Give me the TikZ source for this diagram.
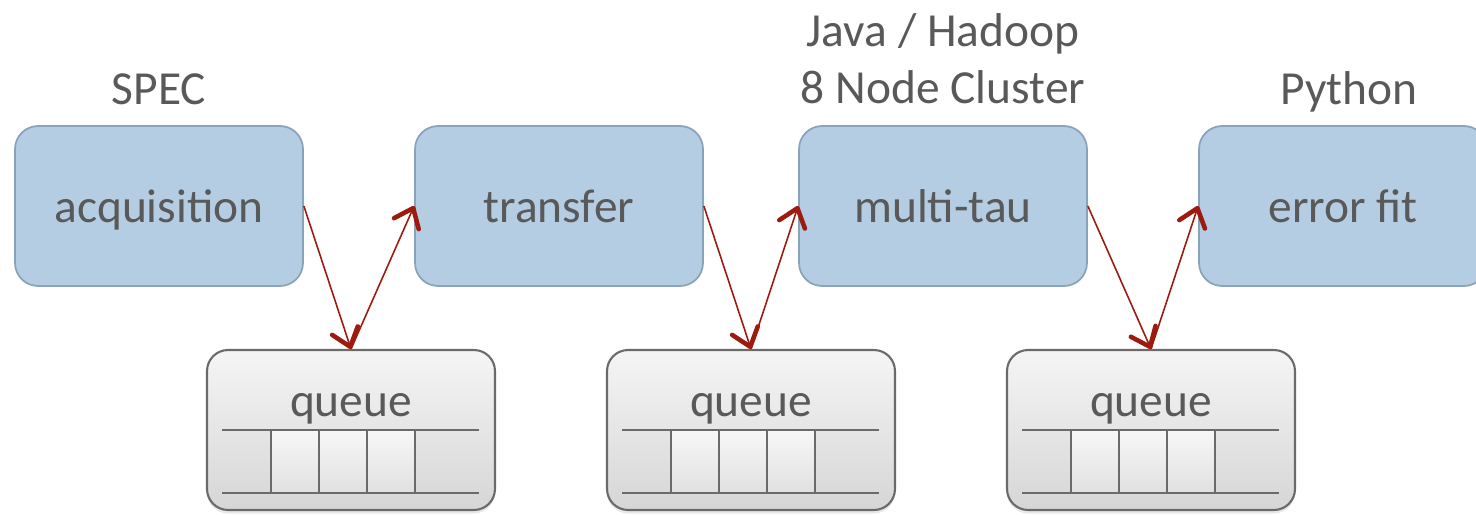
\documentclass[tikz,border=0pt]{standalone}
\usepackage{fontspec}
\setmainfont{Carlito}
\usetikzlibrary{positioning, arrows.meta, shadows}
\definecolor{stagefill}{HTML}{B4CDE2}
\definecolor{stageline}{HTML}{8AA3BA}
\definecolor{txtgray}{HTML}{595959}
\definecolor{flowred}{HTML}{9C1B0E}
\definecolor{queueline}{HTML}{6A6A6A}
\newcommand{\flowarrow}{-{Straight Barb[length=3.4mm,width=5.4mm,line width=2.6pt,round]}}

\begin{document}
\begin{tikzpicture}[x=0.02cm, y=-0.02cm,
        font=\fontsize{27}{32}\selectfont, text=txtgray,
        stagebox/.style={draw=stageline, line width=1pt, fill=stagefill,
            rounded corners=0.46cm, minimum width=5.76cm, minimum height=3.2cm,
            text height=22pt, text depth=3pt},
        queuebox/.style={draw=queueline, line width=1.2pt, top color=white!96!black,
            bottom color=white!84!black, rounded corners=0.42cm,
            minimum width=5.76cm, minimum height=3.2cm,
            drop shadow={opacity=0.18, shadow xshift=0pt, shadow yshift=-2pt}},
        cellbox/.style={draw=queueline, line width=1.2pt, top color=white!97!black,
            bottom color=white!88!black},
        flow/.style={draw=flowred, line width=0.9pt}]
        \useasboundingbox (0,0) rectangle (1476,514);
        % stages
        \node[stagebox] (acq) at (159,206) {acquisition};
        \node[stagebox] (xfer) at (559,206) {transfer};
        \node[stagebox] (mtau) at (943,206) {multi-tau};
        \node[stagebox] (efit) at (1343,206) {error fit};
        % platforms
        \node[anchor=base] (spec) at (159,104) {SPEC};
        \node[anchor=base, align=center] (hadoop) at (943,103)
            {Java / Hadoop\\8 Node Cluster};
        \node[anchor=base] (python) at (1349,104) {Python};
        % queues
        \foreach \q/\x in {q1/351, q2/751, q3/1151} {
            \node[queuebox] (\q) at (\x,430) {};
            \node[anchor=base] (\q txt) at (\x,416) {queue};
            \draw[queueline, line width=1.1pt] ({\x-129},430) -- ({\x+128},430);
            \draw[queueline, line width=1.1pt] ({\x-129},493) -- ({\x+128},493);
            \foreach \c in {0,1,2}
                \draw[cellbox] ({\x-80+48*\c},430) rectangle ++(48,63);
        }
        % connectors
        \draw[flow, \flowarrow] (acq.east) -- (q1.north);
        \draw[flow, \flowarrow] (q1.north) -- (xfer.west);
        \draw[flow, \flowarrow] (xfer.east) -- (q2.north);
        \draw[flow, \flowarrow] (q2.north) -- (mtau.west);
        \draw[flow, \flowarrow] (mtau.east) -- (q3.north);
        \draw[flow, \flowarrow] (q3.north) -- (efit.west);
    \end{tikzpicture}
\end{document}
